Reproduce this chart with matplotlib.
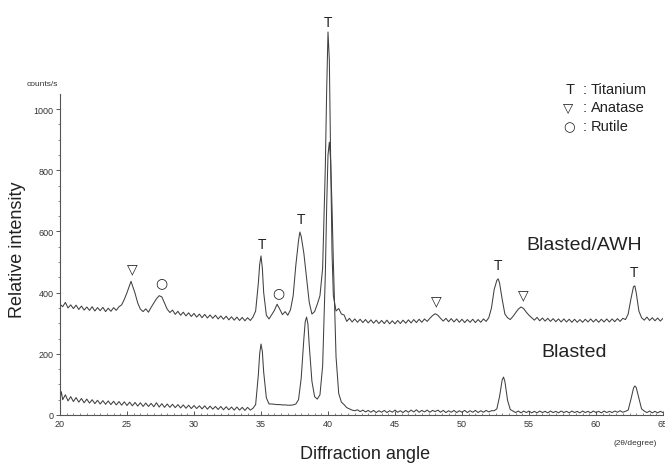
import matplotlib
matplotlib.use('Agg')
import matplotlib.pyplot as plt
from matplotlib.ticker import MultipleLocator

# Blasted/AWH pattern (upper curve), angle in 2theta degrees, counts/s
awh_angle = [20.0, 20.2, 20.4, 20.6, 20.8, 21.0, 21.2, 21.4, 21.6, 21.8,
             22.0, 22.2, 22.4, 22.6, 22.8, 23.0, 23.2, 23.4, 23.6, 23.8,
             24.0, 24.2, 24.4, 24.6, 24.8, 25.0, 25.2, 25.3, 25.4, 25.6,
             25.8, 26.0, 26.2, 26.4, 26.6, 26.8, 27.0, 27.2, 27.4, 27.6,
             27.8, 28.0, 28.2, 28.4, 28.6, 28.8, 29.0, 29.2, 29.4, 29.6,
             29.8, 30.0, 30.2, 30.4, 30.6, 30.8, 31.0, 31.2, 31.4, 31.6,
             31.8, 32.0, 32.2, 32.4, 32.6, 32.8, 33.0, 33.2, 33.4, 33.6,
             33.8, 34.0, 34.2, 34.4, 34.6, 34.8, 34.9, 35.0, 35.1, 35.2,
             35.4, 35.6, 35.8, 36.0, 36.2, 36.4, 36.6, 36.8, 37.0, 37.2,
             37.4, 37.6, 37.8, 37.9, 38.0, 38.1, 38.2, 38.4, 38.6, 38.8,
             39.0, 39.2, 39.4, 39.6, 39.8, 39.9, 40.0, 40.1, 40.2, 40.3,
             40.4, 40.6, 40.8, 41.0, 41.2, 41.4, 41.6, 41.8, 42.0, 42.2,
             42.4, 42.6, 42.8, 43.0, 43.2, 43.4, 43.6, 43.8, 44.0, 44.2,
             44.4, 44.6, 44.8, 45.0, 45.2, 45.4, 45.6, 45.8, 46.0, 46.2,
             46.4, 46.6, 46.8, 47.0, 47.2, 47.4, 47.6, 47.8, 48.0, 48.2,
             48.4, 48.6, 48.8, 49.0, 49.2, 49.4, 49.6, 49.8, 50.0, 50.2,
             50.4, 50.6, 50.8, 51.0, 51.2, 51.4, 51.6, 51.8, 52.0, 52.2,
             52.4, 52.6, 52.7, 52.8, 53.0, 53.2, 53.4, 53.6, 53.8, 54.0,
             54.2, 54.4, 54.6, 54.8, 55.0, 55.2, 55.4, 55.6, 55.8, 56.0,
             56.2, 56.4, 56.6, 56.8, 57.0, 57.2, 57.4, 57.6, 57.8, 58.0,
             58.2, 58.4, 58.6, 58.8, 59.0, 59.2, 59.4, 59.6, 59.8, 60.0,
             60.2, 60.4, 60.6, 60.8, 61.0, 61.2, 61.4, 61.6, 61.8, 62.0,
             62.2, 62.4, 62.6, 62.8, 62.9, 63.0, 63.2, 63.4, 63.6, 63.8,
             64.0, 64.2, 64.4, 64.6, 64.8, 65.0]
awh_counts = [362, 354, 368, 350, 360, 348, 359, 345, 356, 343,
              353, 342, 354, 340, 351, 341, 352, 338, 349, 339,
              351, 342, 354, 360, 378, 400, 425, 437, 424, 398,
              366, 346, 338, 347, 336, 352, 366, 380, 390, 386,
              366, 346, 335, 343, 329, 339, 326, 336, 324, 334,
              322, 332, 320, 330, 318, 329, 317, 327, 316, 326,
              314, 324, 313, 323, 311, 321, 310, 320, 309, 319,
              308, 318, 309, 320, 340, 430, 492, 520, 480, 400,
              326, 314, 328, 342, 362, 346, 328, 338, 326, 344,
              390, 490, 570, 598, 584, 556, 528, 448, 368, 330,
              338, 362, 390, 480, 810, 1060, 1252, 1160, 830, 530,
              390, 340, 348, 330, 327, 306, 316, 304, 314, 303,
              313, 302, 312, 301, 311, 300, 310, 299, 309, 299,
              310, 298, 308, 298, 309, 299, 310, 300, 311, 301,
              312, 302, 313, 303, 314, 306, 316, 325, 331, 326,
              316, 307, 316, 305, 315, 304, 314, 303, 313, 302,
              312, 303, 313, 302, 312, 303, 314, 306, 318, 350,
              410, 440, 445, 432, 378, 330, 318, 312, 322, 334,
              346, 353, 348, 336, 326, 318, 310, 319, 308, 317,
              307, 316, 306, 315, 305, 314, 304, 314, 304, 313,
              303, 313, 303, 312, 303, 313, 304, 314, 304, 313,
              303, 313, 304, 314, 304, 314, 305, 315, 306, 316,
              312, 330, 378, 420, 422, 400, 340, 318, 310, 320,
              309, 318, 308, 317, 307, 316]

# Blasted pattern (lower curve)
bl_angle = [20.0, 20.1, 20.2, 20.4, 20.6, 20.8, 21.0, 21.2, 21.4, 21.6,
            21.8, 22.0, 22.2, 22.4, 22.6, 22.8, 23.0, 23.2, 23.4, 23.6,
            23.8, 24.0, 24.2, 24.4, 24.6, 24.8, 25.0, 25.2, 25.4, 25.6,
            25.8, 26.0, 26.2, 26.4, 26.6, 26.8, 27.0, 27.2, 27.4, 27.6,
            27.8, 28.0, 28.2, 28.4, 28.6, 28.8, 29.0, 29.2, 29.4, 29.6,
            29.8, 30.0, 30.2, 30.4, 30.6, 30.8, 31.0, 31.2, 31.4, 31.6,
            31.8, 32.0, 32.2, 32.4, 32.6, 32.8, 33.0, 33.2, 33.4, 33.6,
            33.8, 34.0, 34.2, 34.4, 34.6, 34.8, 34.9, 35.0, 35.1, 35.2,
            35.4, 35.6, 35.8, 36.0, 36.2, 36.4, 36.6, 36.8, 37.0, 37.2,
            37.4, 37.6, 37.8, 38.0, 38.2, 38.3, 38.4, 38.5, 38.6, 38.8,
            39.0, 39.2, 39.4, 39.6, 39.8, 39.9, 40.0, 40.1, 40.2, 40.3,
            40.4, 40.6, 40.8, 41.0, 41.2, 41.4, 41.6, 41.8, 42.0, 42.2,
            42.4, 42.6, 42.8, 43.0, 43.2, 43.4, 43.6, 43.8, 44.0, 44.2,
            44.4, 44.6, 44.8, 45.0, 45.2, 45.4, 45.6, 45.8, 46.0, 46.2,
            46.4, 46.6, 46.8, 47.0, 47.2, 47.4, 47.6, 47.8, 48.0, 48.2,
            48.4, 48.6, 48.8, 49.0, 49.2, 49.4, 49.6, 49.8, 50.0, 50.2,
            50.4, 50.6, 50.8, 51.0, 51.2, 51.4, 51.6, 51.8, 52.0, 52.2,
            52.4, 52.6, 52.8, 53.0, 53.1, 53.2, 53.4, 53.6, 53.8, 54.0,
            54.2, 54.4, 54.6, 54.8, 55.0, 55.2, 55.4, 55.6, 55.8, 56.0,
            56.2, 56.4, 56.6, 56.8, 57.0, 57.2, 57.4, 57.6, 57.8, 58.0,
            58.2, 58.4, 58.6, 58.8, 59.0, 59.2, 59.4, 59.6, 59.8, 60.0,
            60.2, 60.4, 60.6, 60.8, 61.0, 61.2, 61.4, 61.6, 61.8, 62.0,
            62.2, 62.4, 62.6, 62.8, 62.9, 63.0, 63.2, 63.4, 63.6, 63.8,
            64.0, 64.2, 64.4, 64.6, 64.8, 65.0]
bl_counts = [55, 76, 50, 66, 46, 60, 44, 57, 42, 54,
             40, 52, 39, 50, 37, 48, 36, 47, 35, 46,
             34, 45, 33, 44, 32, 43, 31, 42, 30, 41,
             29, 40, 28, 39, 28, 38, 27, 40, 26, 37,
             25, 36, 25, 35, 24, 34, 23, 33, 22, 32,
             21, 31, 21, 30, 20, 30, 19, 29, 19, 28,
             18, 28, 17, 27, 17, 26, 16, 26, 16, 25,
             15, 25, 16, 22, 34, 130, 200, 232, 208, 140,
             56, 36, 36, 35, 34, 34, 33, 33, 32, 32,
             33, 36, 50, 120, 250, 305, 320, 298, 228, 110,
             60, 52, 66, 160, 460, 680, 850, 892, 830, 680,
             500, 190, 70, 42, 34, 24, 20, 16, 14, 17,
             11, 16, 10, 15, 9, 15, 8, 14, 9, 15,
             8, 14, 9, 16, 9, 14, 8, 15, 9, 16,
             10, 17, 9, 15, 10, 16, 9, 15, 11, 16,
             9, 15, 8, 14, 9, 15, 8, 14, 9, 15,
             8, 14, 9, 15, 8, 14, 9, 15, 10, 14,
             14, 20, 60, 115, 124, 110, 48, 18, 13, 8,
             13, 7, 13, 8, 13, 7, 12, 7, 13, 8,
             12, 7, 13, 8, 12, 7, 13, 8, 12, 7,
             13, 8, 12, 7, 13, 8, 12, 7, 13, 8,
             12, 7, 13, 8, 12, 8, 13, 9, 14, 9,
             12, 16, 50, 88, 95, 90, 55, 20, 13, 8,
             13, 7, 12, 7, 12, 8]

# phase markers above the peaks: (symbol, angle, counts)
peak_symbols = ['\u25bd', '\u25cb', 'T', '\u25cb', 'T', 'T', '\u25bd', 'T', '\u25bd', 'T']
peak_angles = [25.37, 27.54, 35.07, 36.27, 37.99, 40.0, 48.06, 52.69, 54.55, 62.84]
peak_heights = [480, 435, 559, 402, 640, 1284, 376, 490, 395, 467]

legend_symbols = ['T', '\u25bd', '\u25cb']
legend_names = ['Titanium', 'Anatase', 'Rutile']

fam = ['Liberation Sans', 'DejaVu Sans']
sym_fam = ['DejaVu Sans']
plt.rcParams['font.family'] = fam

W, H = 665, 464
fig = plt.figure(figsize=(W / 100, H / 100), dpi=100)
# axis: x=20 at px 60, 13.4 px per degree; y=0 at px 416, 0.306 px per count
ax = fig.add_axes([60 / W, 1 - 416 / H, 603 / W, 413 / H])
ax.set_xlim(20, 65)
ax.set_ylim(0, 1350)

line_col = '#404040'
ax.plot(awh_angle, awh_counts, color=line_col, lw=0.75)
ax.plot(bl_angle, bl_counts, color=line_col, lw=0.75)

for s, a, h in zip(peak_symbols, peak_angles, peak_heights):
    if s == 'T':
        ax.text(a, h, s, ha='center', va='center', fontsize=10, color='#222222')
    else:
        ax.text(a, h, s, ha='center', va='center', fontsize=10, color='#222222', family=sym_fam)

ax.text(59.1, 557, 'Blasted/AWH', ha='center', va='center', fontsize=14, color='#222222')
ax.text(58.4, 209, 'Blasted', ha='center', va='center', fontsize=14, color='#222222')

# legend in upper right
leg_y = [1065, 1006, 944]
for s, n, y in zip(legend_symbols, legend_names, leg_y):
    if s == 'T':
        ax.text(58.06, y, s, ha='center', va='center', fontsize=10.5, color='#222222')
    else:
        ax.text(57.95, y, s, ha='center', va='center', fontsize=9.5, color='#222222', family=sym_fam)
    ax.text(59.18, y, ':', ha='center', va='center', fontsize=10.5, color='#222222')
    ax.text(59.63, y, n, ha='left', va='center', fontsize=10.5, color='#222222')

ax.text(18.7, 1085, 'counts/s', ha='center', va='center', fontsize=6, color='#333333', clip_on=False)
fig.text(613 / W, 1 - 444 / H, '(2\u03b8/degree)', ha='left', va='center', fontsize=6, color='#333333')
fig.text(365 / W, 1 - 455 / H, 'Diffraction angle', ha='center', va='center', fontsize=13, color='#222222')
fig.text(18 / W, 1 - 250 / H, 'Relative intensity', ha='center', va='center', rotation=90,
         fontsize=13, color='#222222')

for side in ['top', 'right']:
    ax.spines[side].set_visible(False)
ax.spines['left'].set_bounds(0, 1050)
for side in ['left', 'bottom']:
    ax.spines[side].set_color('#555555')
    ax.spines[side].set_linewidth(0.8)

ax.set_xticks([20, 25, 30, 35, 40, 45, 50, 55, 60, 65])
ax.xaxis.set_minor_locator(MultipleLocator(0.5))
ax.set_yticks([0, 200, 400, 600, 800, 1000])
ax.set_yticks([v for v in range(50, 1050, 50) if v % 200], minor=True)
ax.tick_params(axis='x', which='major', direction='in', length=3, width=0.7, colors='#555555',
               labelsize=6.5, labelcolor='#333333', pad=3)
ax.tick_params(axis='x', which='minor', direction='in', length=1.5, width=0.6, colors='#777777')
ax.tick_params(axis='y', which='major', direction='out', length=3, width=0.7, colors='#555555',
               labelsize=6.5, labelcolor='#333333', pad=1.5)
ax.tick_params(axis='y', which='minor', direction='out', length=1.5, width=0.6, colors='#777777')

fig.savefig('out.png', dpi=100)
